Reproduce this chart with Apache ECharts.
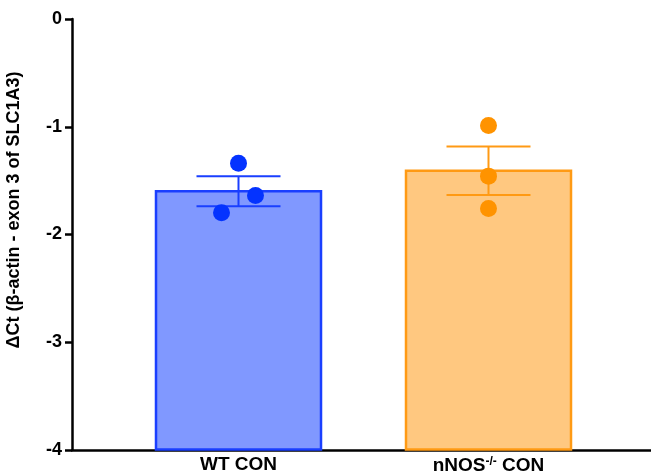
<!DOCTYPE html>
<html>
<head>
<meta charset="utf-8">
<script src="https://cdn.jsdelivr.net/npm/echarts@6/dist/echarts.min.js"></script>
<style>html,body{margin:0;padding:0;background:#fff}#c{width:651px;height:475px}</style>
</head>
<body>
<div id="c"></div>
<script>
// ---- data ----
const categories = ["WT CON", "nNOS-/- CON"];
const means = [-1.6, -1.41];
const sems = [0.14, 0.225];
const wtPoints = [-1.34, -1.64, -1.80];
const nnosPoints = [-0.99, -1.46, -1.76];
const yMin = -4, yMax = 0, yStep = 1;
const yTitle = "ΔCt (β-actin - exon 3 of SLC1A3)";

// ---- style ----
const fills = ["#8098ff", "#ffc880"];
const strokes = ["#1a3fff", "#ff9a14"];
const dotColors = ["#0433ff", "#ff9300"];
const jitterPx = [[0, 17, -17], [0, 0, 0]];
const barW = 165, capHalf = 42;
const font = "Liberation Sans, Arial, Helvetica, sans-serif";

const chart = echarts.init(document.getElementById('c'), null, {renderer: 'canvas'});

const barData = means.map((m, i) => [i, m]);
const errData = means.map((m, i) => [i, m - sems[i], m + sems[i]]);
const ptData = [];
[wtPoints, nnosPoints].forEach((arr, i) => arr.forEach((v, j) => ptData.push([i, v, j])));

chart.setOption({
  animation: false,
  grid: [
    {left: 72, right: 0, top: 19, bottom: 25},
    {left: 113.5, right: 37.5, top: 19, bottom: 25}
  ],
  xAxis: [
    {gridIndex: 0, type: 'value', min: 0, max: 1, axisLine: {show: true, onZero: false, lineStyle: {color: '#000', width: 2.5}}, axisTick: {show: false}, axisLabel: {show: false}, splitLine: {show: false}},
    {gridIndex: 1, type: 'category', data: categories, axisLine: {show: false}, axisTick: {show: false}, splitLine: {show: false},
      axisLabel: {margin: 6, fontFamily: font, fontWeight: 'bold', fontSize: 19, color: '#000',
        formatter: function (v) { return v === "nNOS-/- CON" ? "nNOS{sup|-/-} CON" : v; },
        rich: {sup: {fontFamily: font, fontWeight: 'bold', fontSize: 12, color: '#000', verticalAlign: 'top', padding: [0, 0, 8, 0]}}}}
  ],
  yAxis: [
    {gridIndex: 0, type: 'value', min: yMin, max: yMax, interval: yStep,
      axisLine: {show: true, lineStyle: {color: '#000', width: 2.5}},
      axisTick: {show: true, length: 7, lineStyle: {color: '#000', width: 2.5}},
      axisLabel: {margin: 10, fontFamily: font, fontWeight: 'bold', fontSize: 18, color: '#000'},
      splitLine: {show: false}},
    {gridIndex: 1, type: 'value', min: yMin, max: yMax, interval: yStep, show: false}
  ],
  graphic: [{
    type: 'text', x: 14.5, y: 210, rotation: Math.PI / 2,
    style: {text: yTitle, fontFamily: font, fontWeight: 'bold', fontSize: 18, fill: '#000', align: 'center', verticalAlign: 'middle'}
  }],
  series: [
    {
      type: 'custom', xAxisIndex: 1, yAxisIndex: 1, z: 2,
      data: barData,
      renderItem: function (params, api) {
        const i = api.value(0);
        const top = api.coord([i, api.value(1)]);
        const base = api.coord([i, yMin]);
        return {type: 'rect', shape: {x: top[0] - barW / 2, y: top[1], width: barW, height: base[1] - top[1]},
          style: {fill: fills[i], stroke: strokes[i], lineWidth: 2.5}};
      }
    },
    {
      type: 'custom', xAxisIndex: 1, yAxisIndex: 1, z: 3,
      data: errData,
      renderItem: function (params, api) {
        const i = api.value(0);
        const lo = api.coord([i, api.value(1)]);
        const hi = api.coord([i, api.value(2)]);
        const st = {stroke: strokes[i], lineWidth: 2};
        return {type: 'group', children: [
          {type: 'line', shape: {x1: lo[0], y1: lo[1], x2: hi[0], y2: hi[1]}, style: st},
          {type: 'line', shape: {x1: lo[0] - capHalf, y1: lo[1], x2: lo[0] + capHalf, y2: lo[1]}, style: st},
          {type: 'line', shape: {x1: hi[0] - capHalf, y1: hi[1], x2: hi[0] + capHalf, y2: hi[1]}, style: st}
        ]};
      }
    },
    {
      type: 'custom', xAxisIndex: 1, yAxisIndex: 1, z: 4,
      data: ptData,
      renderItem: function (params, api) {
        const i = api.value(0), j = api.value(2);
        const p = api.coord([i, api.value(1)]);
        return {type: 'circle', shape: {cx: p[0] + jitterPx[i][j], cy: p[1], r: 8.5}, style: {fill: dotColors[i]}};
      }
    }
  ]
});
</script>
</body>
</html>
